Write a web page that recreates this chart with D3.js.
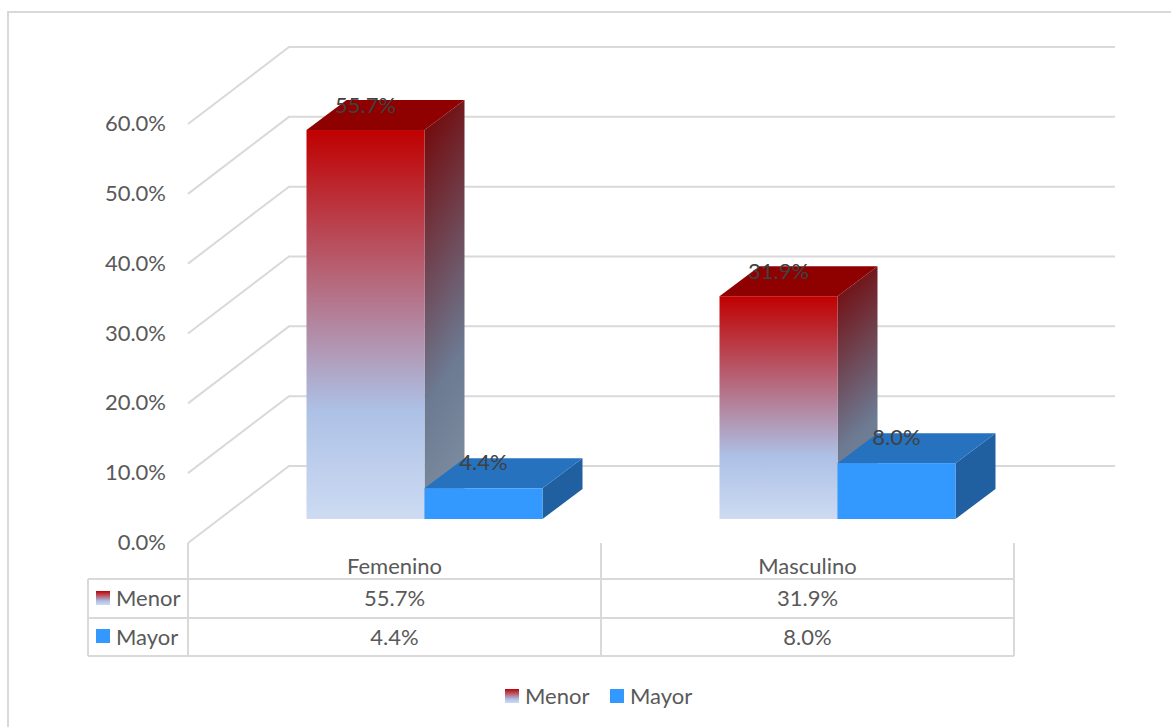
<!DOCTYPE html>
<html>
<head>
<meta charset="utf-8">
<script src="https://cdn.jsdelivr.net/npm/d3@7"></script>
<style>
html, body { margin: 0; padding: 0; background: #fff; }
svg { display: block; }
text { font-family: Lato, "Open Sans", sans-serif; }
</style>
</head>
<body>
<svg id="chart" width="1171" height="727"></svg>
<script>
// data
var categories = ["Femenino", "Masculino"];
var seriesNames = ["Menor", "Mayor"];
var menor = [55.7, 31.9];
var mayor = [4.4, 8.0];
var tickValues = [0, 10, 20, 30, 40, 50, 60];

var svg = d3.select("#chart");
var grey = "#d9d9d9";
var textColor = "#595959";
var fontSize = 22;

// front plane of the axis, the bars stand further back, the wall at the back
var x = d3.scaleBand().domain(categories).range([188, 1014]);
var inner = d3.scaleBand().domain(seriesNames).range([0, 236]);
var y = d3.scaleLinear().domain([0, 60]).range([543, 124]);
var wallDx = 101, wallDy = -77;
var barDx = 30, barDy = -24;
var depthX = 40, depthY = -30;

var defs = svg.append("defs");

function addGradient(id, x1, y1, x2, y2, stops) {
    var g = defs.append("linearGradient").attr("id", id)
        .attr("x1", x1).attr("y1", y1).attr("x2", x2).attr("y2", y2);
    stops.forEach(function (s) {
        g.append("stop").attr("offset", s[0]).attr("stop-color", s[1]);
    });
}
addGradient("redFront", 0, 0, 0, 1, [[0, "#c00000"], [0.72, "#adc1e6"], [1, "#cddbf2"]]);
addGradient("redSide", 0, 0, 0.15, 1, [[0, "#730000"], [0.72, "#6c7a92"], [1, "#7c8b9e"]]);
addGradient("redKey", 0, 0, 0, 1, [[0, "#c00000"], [0.72, "#adc1e6"], [1, "#cddbf2"]]);

// chart border, only left and top are visible
svg.append("path")
    .attr("d", d3.line()([[8, 727], [8, 12], [1171, 12]]))
    .attr("fill", "none").attr("stroke", grey).attr("stroke-width", 2);

// gridlines on side wall and back wall
var grid = svg.append("g").attr("fill", "none").attr("stroke", grey).attr("stroke-width", 2);
tickValues.forEach(function (v) {
    grid.append("path").attr("d", d3.line()([
        [x.range()[0], y(v)],
        [x.range()[0] + wallDx, y(v) + wallDy],
        [x.range()[1] + wallDx, y(v) + wallDy]
    ]));
});

// value axis labels
svg.append("g").selectAll("text").data(tickValues).join("text")
    .attr("x", 166).attr("y", function (d) { return y(d) + 7; })
    .attr("text-anchor", "end")
    .attr("font-size", fontSize).attr("fill", textColor)
    .text(function (d) { return d.toFixed(1) + "%"; });

function drawBar(g, value, left, frontFill, sideFill, topFill) {
    var w = inner.bandwidth();
    var bottom = y(0) + barDy, top = y(value) + barDy;
    var right = left + w;
    // side first so the front overlaps it
    g.append("path")
        .attr("d", d3.line()([[right, top], [right + depthX, top + depthY], [right + depthX, bottom + depthY], [right, bottom]]) + "Z")
        .attr("fill", sideFill);
    g.append("path")
        .attr("d", d3.line()([[left, top], [left + depthX, top + depthY], [right + depthX, top + depthY], [right, top]]) + "Z")
        .attr("fill", topFill);
    g.append("rect")
        .attr("x", left).attr("y", top).attr("width", w).attr("height", bottom - top)
        .attr("fill", frontFill);
}

var bars = svg.append("g");
var labels = [];
categories.forEach(function (c, i) {
    var band = x.bandwidth();
    var start = x(c) + (band - inner.range()[1]) / 2 + barDx;
    var leftRed = start + inner("Menor");
    var leftBlue = start + inner("Mayor");
    drawBar(bars, menor[i], leftRed, "url(#redFront)", "url(#redSide)", "#8f0000");
    drawBar(bars, mayor[i], leftBlue, "#3399ff", "#2060a1", "#2672bf");
    labels.push({ x: leftRed + inner.bandwidth() / 2, y: y(menor[i]) + barDy - 17, t: menor[i].toFixed(1) + "%" });
    labels.push({ x: leftBlue + inner.bandwidth() / 2, y: y(mayor[i]) + barDy - 18, t: mayor[i].toFixed(1) + "%" });
});

svg.append("g").selectAll("text").data(labels).join("text")
    .attr("x", function (d) { return d.x; }).attr("y", function (d) { return d.y; })
    .attr("text-anchor", "middle")
    .attr("font-size", fontSize).attr("fill", "#404040")
    .text(function (d) { return d.t; });

// data table below the plot
var tableLeft = 88;
var rowY = [579, 618, 656];
var table = svg.append("g").attr("stroke", grey).attr("stroke-width", 2);
rowY.forEach(function (ry) {
    table.append("line").attr("x1", tableLeft).attr("x2", x.range()[1]).attr("y1", ry).attr("y2", ry);
});
table.append("line").attr("x1", tableLeft).attr("x2", tableLeft).attr("y1", rowY[0]).attr("y2", rowY[2]);
var verticals = [x.range()[0]].concat(categories.map(function (c) { return x(c) + x.bandwidth(); }));
verticals.forEach(function (vx) {
    table.append("line").attr("x1", vx).attr("x2", vx).attr("y1", y(0)).attr("y2", rowY[2]);
});

function cell(tx, ty, t, anchor) {
    svg.append("text").attr("x", tx).attr("y", ty)
        .attr("text-anchor", anchor || "middle")
        .attr("font-size", fontSize).attr("fill", textColor).text(t);
}
categories.forEach(function (c, i) {
    var cx = x(c) + x.bandwidth() / 2;
    cell(cx, 574, c);
    cell(cx, 606, menor[i].toFixed(1) + "%");
    cell(cx, 645, mayor[i].toFixed(1) + "%");
});
cell(116, 606, seriesNames[0], "start");
cell(116, 645, seriesNames[1], "start");

function key(kx, ky, fill) {
    svg.append("rect").attr("x", kx).attr("y", ky).attr("width", 14).attr("height", 14).attr("fill", fill);
}
key(96, 591, "url(#redKey)");
key(96, 629, "#3399ff");

// legend at the bottom
key(505, 689, "url(#redKey)");
key(610, 689, "#3399ff");
cell(525, 704, seriesNames[0], "start");
cell(630, 704, seriesNames[1], "start");
</script>
</body>
</html>
